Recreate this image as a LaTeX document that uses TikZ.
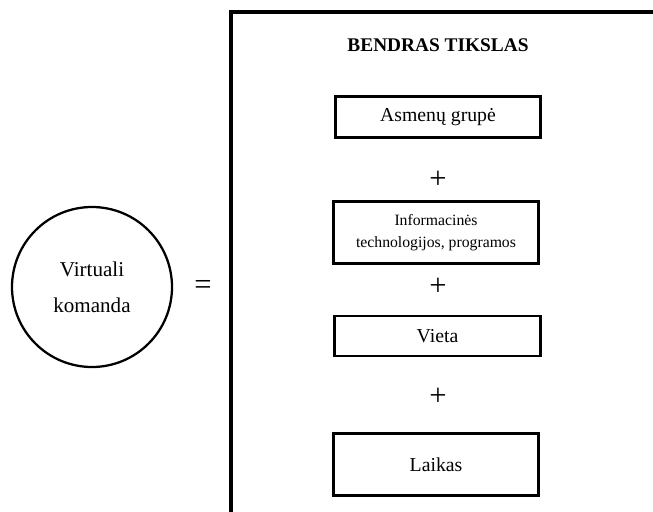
\documentclass[tikz,border=0pt]{standalone}
\usepackage{fontspec}
\setmainfont{Liberation Serif}
\begin{document}
\begin{tikzpicture}[x=0.75pt,y=-0.75pt,
  itembox/.style={draw,line width=2.1pt,minimum width=154pt,align=center,inner sep=0pt},
  plus/.style={font=\fontsize{23}{23}\selectfont},
  frameline/.style={line width=2.6pt}]
\useasboundingbox (0,0) rectangle (653,511);
\begin{scope}
\clip (0,0) rectangle (653,511);
\coordinate (ftr) at (660,12);
\coordinate (ftl) at (231,12);
\coordinate (fbl) at (231,520);
\draw[frameline] (ftr) -- (ftl) -- (fbl);
\end{scope}
\node[font=\fontsize{14.5}{17}\selectfont\bfseries] (title) at (438,45) {BENDRAS TIKSLAS};
\node[itembox,minimum height=31pt,font=\fontsize{14.8}{17}\selectfont] (b1) at (438,117) {Asmenų grupė};
\node[plus] (p1) at (438,180) {+};
\node[itembox,minimum height=46pt,font=\fontsize{11.8}{17}\selectfont] (b2) at (436,232.5) {Informacinės\\technologijos, programos};
\node[plus] (p2) at (438,287) {+};
\node[itembox,minimum height=30pt,font=\fontsize{14.8}{17}\selectfont] (b3) at (437.5,336) {Vieta};
\node[plus] (p3) at (438,397) {+};
\node[itembox,minimum height=47pt,font=\fontsize{14.8}{17}\selectfont] (b4) at (436,464.5) {Laikas};
\node[draw,circle,line width=1.7pt,minimum size=120pt,inner sep=0pt,align=center,font=\fontsize{15.8}{27}\selectfont] (vk) at (92,287) {Virtuali\\komanda};
\node[plus] (eq) at (203,287) {=};
\end{tikzpicture}
\end{document}
